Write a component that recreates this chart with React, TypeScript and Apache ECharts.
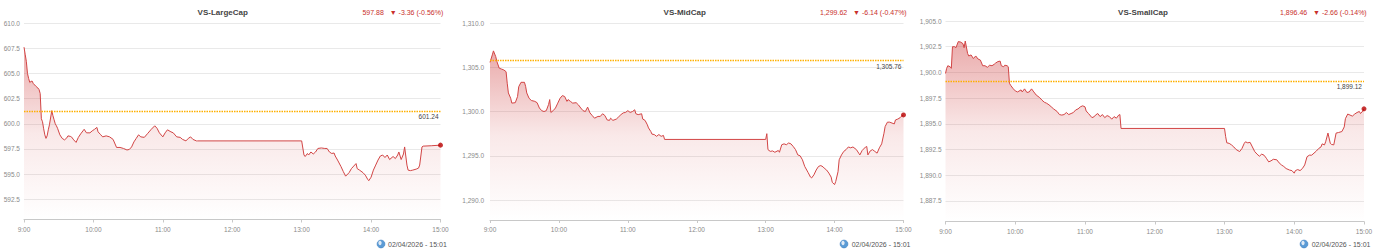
import React, { useEffect, useRef } from "react";
import * as echarts from "echarts";

// ---------- DATA ----------
const panelNames = ["VS-LargeCap", "VS-MidCap", "VS-SmallCap"];
const prevClose = [601.24, 1305.76, 1899.12];
const dateLabel = "02/04/2026 - 15:01";
const hourLabels = ["9:00", "10:00", "11:00", "12:00", "13:00", "14:00", "15:00"];

const largeYTicks = [592.5, 595, 597.5, 600, 602.5, 605, 607.5, 610];
const midYTicks = [1290, 1295, 1300, 1305, 1310];
const smallYTicks = [1887.5, 1890, 1892.5, 1895, 1897.5, 1900, 1902.5, 1905];
const yRanges = [
  [590.5, 610],
  [1287.75, 1310],
  [1885.5, 1905],
];

// minutes after 9:00
const largeTimes = [0,1,2,3,4,5,6,7,8,10,12,13,14,15,16,17,18,19,20,21,22,24,25,26,27,28,29,31,33,35,37,38,40,41,43,45,47,49,51,52,54,57,59,61,63,64,66,68,71,74,77,80,83,86,89,91,93,95,97,99,101,104,107,110,113,115,117,120,122,124,127,129,132,135,137,140,142,144,146,149,150,240,242,243,245,246,248,250,252,254,257,260,262,264,266,268,269,271,274,276,278,281,283,285,287,288,290,293,295,297,298,300,302,304,306,308,310,312,314,316,319,321,323,324,326,328,329,331,332,334,336,339,341,342,344,345,352,360];
const largeValues = [607.6,606.9,606.2,605.0,604.5,604.1,604.2,604.24,604.0,603.75,603.55,603.4,603.0,600.5,600.2,599.5,598.9,598.55,598.8,599.4,599.9,601.3,600.8,600.4,600.0,599.8,599.55,598.9,598.55,598.4,598.6,598.8,598.75,598.7,598.4,598.15,598.65,599.0,599.3,599.45,599.1,599.1,599.3,599.45,599.64,599.2,598.95,598.7,598.8,598.7,598.45,597.65,597.65,597.55,597.4,597.45,597.7,598.2,598.55,598.9,598.7,598.65,599.05,599.45,599.8,599.55,599.1,598.7,599.1,599.4,599.2,599.1,598.7,598.65,598.45,598.3,598.55,598.7,598.45,598.3,598.3,598.3,596.9,596.75,597.05,596.9,597.2,597.0,597.2,597.55,597.6,597.55,597.55,597.2,597.05,597.1,596.8,596.4,595.75,595.25,594.8,595.15,595.55,595.8,596.05,595.55,595.4,595.15,594.9,594.5,594.35,594.7,595.4,595.9,596.4,596.8,596.9,596.65,596.9,596.45,596.75,596.55,596.9,597.2,596.45,597.0,597.7,595.9,595.4,595.35,595.4,595.5,595.6,595.9,597.7,597.78,597.82,597.88];

const midTimes = [0,2,3,5,6,8,10,12,14,15,16,18,19,22,24,25,27,30,31,32,34,36,39,41,43,45,47,49,51,52,53,55,57,59,61,63,65,67,68,70,72,75,77,79,81,83,85,87,89,91,94,96,98,100,102,104,105,107,110,112,114,116,118,120,122,124,126,127,129,132,133,135,137,138,140,141,143,145,147,149,151,152,240,241,242,244,246,248,251,252,254,256,258,260,262,264,266,268,270,272,274,277,279,280,282,284,286,288,290,291,293,295,297,298,300,301,303,304,306,308,310,312,314,316,319,321,322,324,327,328,329,331,333,335,337,339,341,343,344,346,348,350,352,353,355,357,358,360];
const midValues = [1305.55,1306.4,1306.85,1306.2,1305.65,1304.9,1304.8,1304.7,1304.5,1303.2,1302.1,1301.5,1300.95,1301.0,1301.7,1302.8,1303.3,1303.3,1302.85,1302.1,1301.5,1301.25,1301.15,1301.0,1300.4,1300.1,1300.0,1300.1,1300.8,1301.35,1299.9,1300.1,1300.4,1300.95,1301.5,1301.8,1301.7,1301.15,1301.35,1301.15,1300.95,1301.0,1300.75,1300.4,1300.1,1300.0,1300.5,1299.85,1299.55,1299.25,1299.45,1299.45,1299.75,1299.55,1299.05,1299.0,1299.25,1299.0,1299.15,1299.4,1299.65,1299.85,1299.9,1300.1,1299.9,1300.0,1300.2,1299.75,1299.65,1299.75,1299.15,1299.0,1298.5,1298.15,1297.75,1297.45,1297.4,1297.2,1297.4,1297.2,1297.3,1296.85,1296.85,1297.5,1295.7,1295.5,1295.55,1295.4,1295.6,1295.4,1296.25,1296.35,1296.25,1296.45,1296.35,1296.05,1295.7,1295.1,1295.0,1294.55,1293.8,1293.1,1292.6,1292.5,1292.85,1293.4,1293.8,1293.9,1293.75,1293.6,1293.4,1293.05,1292.6,1292.0,1291.75,1292.1,1293.2,1294.55,1295.1,1295.5,1295.7,1296.0,1295.9,1296.0,1295.7,1295.3,1295.1,1295.6,1296.0,1296.05,1295.1,1295.55,1295.7,1295.5,1295.3,1295.9,1296.35,1297.55,1298.3,1298.8,1298.8,1298.7,1298.6,1299.05,1299.15,1299.3,1299.45,1299.62];

const smallTimes = [0,1,2,4,5,6,8,9,11,13,15,16,17,19,20,22,24,26,28,30,32,34,36,38,40,42,43,45,47,48,50,51,53,54,55,56,58,60,62,65,66,68,70,72,74,76,78,81,83,85,87,89,91,93,96,98,100,102,104,106,108,110,112,114,116,118,120,121,123,126,128,129,131,133,135,137,139,141,143,145,147,149,150,151,240,241,242,244,246,248,250,253,255,257,258,260,262,264,266,268,270,272,274,276,278,280,282,285,287,289,291,293,296,298,300,301,303,305,307,309,311,313,315,317,319,321,323,324,326,327,329,331,332,334,336,338,341,343,344,346,348,350,352,354,356,357,359,360];
const smallValues = [1899.9,1900.4,1900.65,1900.55,1900.4,1902.5,1902.5,1902.4,1903.0,1902.95,1902.8,1902.4,1903.05,1901.85,1901.6,1901.7,1901.35,1901.6,1901.3,1901.2,1900.65,1900.65,1900.5,1900.7,1900.65,1900.8,1900.9,1901.05,1901.1,1900.65,1900.55,1900.7,1900.65,1900.55,1898.95,1898.75,1898.45,1898.2,1898.1,1898.3,1898.1,1898.4,1898.05,1898.1,1898.4,1898.1,1897.8,1897.55,1897.3,1897.1,1897.0,1896.85,1896.65,1896.45,1896.2,1895.9,1895.85,1895.9,1896.1,1895.9,1896.0,1896.1,1896.35,1896.45,1896.65,1896.75,1896.65,1896.25,1896.0,1895.6,1895.7,1895.85,1896.0,1895.7,1895.9,1895.6,1895.8,1895.7,1895.45,1895.7,1895.55,1895.85,1895.9,1894.55,1894.55,1893.75,1893.15,1893.1,1892.95,1892.75,1892.5,1892.3,1892.6,1893.1,1893.25,1893.15,1893.2,1892.75,1892.3,1892.05,1891.85,1892.05,1891.95,1891.65,1891.3,1891.4,1891.55,1891.5,1891.2,1891.0,1890.85,1890.65,1890.5,1890.45,1890.2,1890.45,1890.55,1890.45,1890.65,1891.0,1891.8,1891.95,1891.95,1892.15,1892.35,1892.6,1892.75,1893.05,1892.95,1893.25,1894.1,1893.1,1893.0,1892.95,1894.1,1894.15,1894.25,1894.7,1895.5,1895.95,1895.85,1895.75,1895.95,1896.1,1896.2,1896.0,1896.25,1896.46];

// ---------- LAYOUT ----------
const FONT = "'Liberation Sans', Arial, sans-serif";
const layout = [
  { grid: { left: 24, top: 23, width: 416.5, height: 196.5 }, titleX: 222.7, headRight: 443.3, iconX: 381, dateX: 388, labelMargin: 4 },
  { grid: { left: 490, top: 23, width: 413.5, height: 197 }, titleX: 684.7, headRight: 906.7, iconX: 844, dateX: 851.7, labelMargin: 6 },
  { grid: { left: 945.5, top: 21, width: 418.5, height: 200.5 }, titleX: 1143, headRight: 1366.7, iconX: 1304, dateX: 1311.7, labelMargin: 4 },
];

const fmt = (v: number, d: number) =>
  v.toLocaleString("en-US", { minimumFractionDigits: d, maximumFractionDigits: d });

export default function App() {
  const ref = useRef<HTMLDivElement>(null);
  useEffect(() => {
    if (!ref.current) return;
    const chart = echarts.init(ref.current, null, { renderer: "svg" });
    const times = [largeTimes, midTimes, smallTimes];
    const values = [largeValues, midValues, smallValues];
    const ticks = [largeYTicks, midYTicks, smallYTicks];

    const grids: any[] = [];
    const xAxes: any[] = [];
    const yAxes: any[] = [];
    const series: any[] = [];
    const graphics: any[] = [];

    for (let i = 0; i < 3; i++) {
      const L = layout[i];
      grids.push({ ...L.grid, containLabel: false });
      xAxes.push({
        type: "value",
        gridIndex: i,
        min: 0,
        max: 360,
        interval: 60,
        axisLine: { show: true, lineStyle: { color: "#c8c8c8", width: 1 } },
        axisTick: { show: true, length: 3, lineStyle: { color: "#c8c8c8" } },
        splitLine: { show: false },
        axisLabel: {
          color: "#8a8a8a",
          fontSize: 6.5,
          fontFamily: FONT,
          margin: 6,
          formatter: (v: number) => hourLabels[Math.round(v / 60)] ?? "",
        },
      });
      yAxes.push({
        type: "value",
        gridIndex: i,
        min: yRanges[i][0],
        max: yRanges[i][1],
        axisLine: { show: false },
        axisTick: { show: false, customValues: ticks[i] },
        splitLine: { show: true, lineStyle: { color: "#e9e9e9", width: 1 } },
        axisLabel: {
          customValues: ticks[i],
          color: "#8a8a8a",
          fontSize: 6.5,
          fontFamily: FONT,
          margin: L.labelMargin,
          formatter: (v: number) => fmt(v, 1),
        },
      });
      const data = times[i].map((t, k) => [t, values[i][k]]);
      series.push({
        type: "line",
        xAxisIndex: i,
        yAxisIndex: i,
        data,
        showSymbol: false,
        symbol: "none",
        lineStyle: { color: "#d24545", width: 1 },
        areaStyle: {
          origin: "start",
          color: new echarts.graphic.LinearGradient(0, 0, 0, 1, [
            { offset: 0, color: "rgba(205,55,55,0.6)" },
            { offset: 0.5, color: "rgba(205,55,55,0.16)" },
            { offset: 1, color: "rgba(205,55,55,0.0)" },
          ]),
        },
        markLine: {
          silent: true,
          symbol: "none",
          z: 10,
          lineStyle: { color: "#ffb000", type: [1.5, 1], width: 1.3, opacity: 1 },
          label: {
            position: "insideEndBottom",
            distance: 2,
            color: "#444",
            fontSize: 6.5,
            fontFamily: FONT,
            formatter: () => fmt(prevClose[i], 2),
          },
          data: [{ yAxis: prevClose[i] }],
        },
      });
      const lastT = times[i][times[i].length - 1];
      const lastV = values[i][values[i].length - 1];
      series.push({
        type: "scatter",
        xAxisIndex: i,
        yAxisIndex: i,
        data: [[lastT, lastV]],
        symbol: "circle",
        symbolSize: 5,
        itemStyle: { color: "#b80000" },
        z: 5,
      });

      const ch = lastV - prevClose[i];
      const pct = (ch / prevClose[i]) * 100;
      graphics.push({
        type: "text",
        x: L.titleX,
        y: 12,
        style: {
          text: panelNames[i],
          fill: "#444",
          font: `bold 8px ${FONT}`,
          align: "center",
          verticalAlign: "middle",
          textAlign: "center",
          textVerticalAlign: "middle",
        },
      });
      graphics.push({
        type: "text",
        x: L.headRight,
        y: 12,
        style: {
          text: `${fmt(lastV, 2)}   ▼ ${fmt(ch, 2)} (${fmt(pct, 2)}%)`,
          fill: "#c9302c",
          font: `7px ${FONT}`,
          align: "right",
          verticalAlign: "middle",
          textAlign: "right",
          textVerticalAlign: "middle",
        },
      });
      graphics.push({
        type: "circle",
        shape: { cx: L.iconX, cy: 244, r: 4 },
        style: { fill: "#5b9bd5", stroke: "#3d7fc1", lineWidth: 0.5 },
      });
      graphics.push({
        type: "ellipse",
        shape: { cx: L.iconX - 1, cy: 243, rx: 1.6, ry: 2.2 },
        style: { fill: "#dfeaf6" },
      });
      graphics.push({
        type: "text",
        x: L.dateX,
        y: 244,
        style: {
          text: dateLabel,
          fill: "#555",
          font: `7px ${FONT}`,
          align: "left",
          verticalAlign: "middle",
          textAlign: "left",
          textVerticalAlign: "middle",
        },
      });
    }

    chart.setOption({
      animation: false,
      backgroundColor: "#fff",
      grid: grids,
      xAxis: xAxes,
      yAxis: yAxes,
      series,
      graphic: { elements: graphics },
    });
    return () => chart.dispose();
  }, []);
  return (
    <div
      ref={ref}
      style={{ position: "absolute", left: 0, top: 0, width: 1378, height: 252 }}
    />
  );
}
